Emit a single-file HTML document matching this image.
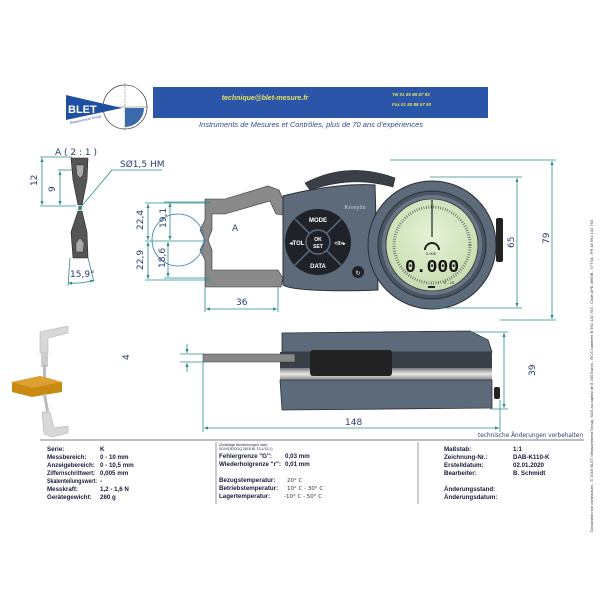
<!DOCTYPE html>
<html><head><meta charset="utf-8"><style>
html,body{margin:0;padding:0;background:#fff;}
svg{display:block;font-family:"Liberation Sans",sans-serif;}
.d{font-family:"DejaVu Sans","Liberation Sans",sans-serif;fill:#2a3b6e;font-size:9px;}
.t{font-size:6.2px;font-weight:bold;fill:#1a1a3a;}
.dl{stroke:#2a8c8c;stroke-width:0.8;fill:none;}
</style></head><body>
<svg width="600" height="600" viewBox="0 0 600 600" xmlns="http://www.w3.org/2000/svg">
<defs>
<marker id="a" markerWidth="6" markerHeight="6" refX="5" refY="3" orient="auto-start-reverse"><path d="M0,1 L5,3 L0,5z" fill="#2a8c8c"/></marker>
<linearGradient id="sil" x1="0" y1="0" x2="0" y2="1"><stop offset="0" stop-color="#777"/><stop offset="0.5" stop-color="#e8e8e8"/><stop offset="1" stop-color="#888"/></linearGradient>
<radialGradient id="lcd" cx="0.5" cy="0.4" r="0.6"><stop offset="0" stop-color="#e6f2d6"/><stop offset="1" stop-color="#c6dcb0"/></radialGradient>
</defs>
<!-- header -->
<rect x="153" y="87" width="335" height="31" fill="#2a55a8"/>
<text x="265" y="100" font-size="7" font-style="italic" font-weight="bold" fill="#e8e060" text-anchor="middle">technique@blet-mesure.fr</text>
<text x="392" y="96" font-size="4.5" font-style="italic" font-weight="bold" fill="#e8e060">Tel 01 80 88 57 93</text>
<text x="392" y="106" font-size="4.5" font-style="italic" font-weight="bold" fill="#e8e060">Fax 01 80 88 57 93</text>
<text x="311" y="127" font-size="7.5" font-style="italic" fill="#2a4a9a" text-anchor="middle">Instruments de Mesures et Contrôles, plus de 70 ans d'expériences</text>
<!-- logo -->
<circle cx="125" cy="107" r="22" fill="none" stroke="#444" stroke-width="0.7"/>
<line x1="125" y1="83" x2="125" y2="130" stroke="#666" stroke-width="0.5" stroke-dasharray="2,1"/>
<line x1="100" y1="107" x2="148" y2="107" stroke="#666" stroke-width="0.5"/>
<path d="M125,108 L144,108 A19,19 0 0 1 125,127z" fill="#3a6aaa"/>
<path d="M66,95 L122,108 L66,120z" fill="#1f4fa0"/>
<text x="68" y="113" font-size="11" font-weight="bold" fill="#fff">BLET</text>
<text x="70" y="124" font-size="3.5" fill="#2a4a9a" transform="rotate(-12 70 124)">Measurement Group</text>
<!-- detail A -->
<text x="55" y="155" class="d">A ( 2 : 1 )</text>
<path d="M71,158 L88,158 L87,180 L82,205 L78,205 L73,180z" fill="#555" stroke="#222" stroke-width="0.6"/>
<path d="M76,165 L84,165 L83,175 L80,178 L77,175z" fill="#aaa" stroke="#222" stroke-width="0.4"/>
<path d="M78,211 L82,211 L87,232 L88,258 L73,258 L71,232z" fill="#555" stroke="#222" stroke-width="0.6"/>
<path d="M80,238 L84,243 L83,252 L76,252 L76,243z" fill="#aaa" stroke="#222" stroke-width="0.4"/>
<circle cx="80" cy="208" r="2" fill="#2a8c8c"/>
<path class="dl" d="M80,208 L112,170 L162,170"/>
<text x="120" y="167" class="d">SØ1,5 HM</text>
<line class="dl" x1="40" y1="157" x2="72" y2="157"/><line class="dl" x1="40" y1="206" x2="76" y2="206"/>
<line class="dl" x1="42" y1="158" x2="42" y2="205" marker-start="url(#a)" marker-end="url(#a)"/>
<text class="d" transform="translate(37,186) rotate(-90)">12</text>
<line class="dl" x1="58" y1="170" x2="72" y2="170"/>
<line class="dl" x1="60" y1="171" x2="60" y2="205" marker-start="url(#a)" marker-end="url(#a)"/>
<text class="d" transform="translate(55,192) rotate(-90)">9</text>
<line class="dl" x1="70" y1="258" x2="68" y2="286"/><line class="dl" x1="88" y1="258" x2="94" y2="282"/>
<path class="dl" d="M68,283 Q82,284 94,280" marker-start="url(#a)" marker-end="url(#a)"/>
<text x="70" y="277" class="d">15,9°</text>
<!-- iso picture -->
<path d="M40,332 L68,326 L68,333 L48,338 L48,353 L40,353z" fill="#d8d8d8" stroke="#aaa" stroke-width="0.5"/>
<rect x="41" y="353" width="7" height="14" fill="#ccc"/>
<rect x="43" y="365" width="3" height="15" fill="#bbb"/>
<path d="M12,382 L40,376 L62,382 L62,392 L32,397 L12,392z" fill="#c88a10"/>
<path d="M12,382 L40,376 L62,382 L32,388z" fill="#dba030"/>
<rect x="44" y="394" width="3" height="18" fill="#bbb" transform="rotate(-10 45 400)"/>
<path d="M42,412 L50,412 L54,428 L68,426 L68,433 L52,437 L44,434z" fill="#d8d8d8" stroke="#aaa" stroke-width="0.5"/>
<!-- front view jaws -->
<path d="M205,199 L225,199 L268,186 L279,190 L285,204 L283,215 L276,214 L270,201 L225,214 L212,214 L212,230 L208,240 L212,250 L212,270 L278,270 L283,278 L281,287 L205,287 L205,260 L200,250 L205,240 L200,230 L205,220z" fill="#8a8a8a" stroke="#333" stroke-width="0.6"/>
<path d="M283,196 C283,196 335,182 375,185 L378,290 C330,292 290,290 283,285z" fill="#5d6a7a" stroke="#2a2f38" stroke-width="1"/>
<path d="M305,183 C330,170 360,165 395,178 L393,187 C360,178 335,182 310,190z" fill="#3a3f48" stroke="#222" stroke-width="0.6"/>
<circle cx="432" cy="245" r="64" fill="#5d6a7a" stroke="#2a2f38" stroke-width="1"/>
<circle cx="432" cy="245" r="54" fill="#4a5563" stroke="#2a2f38" stroke-width="1"/>
<circle cx="432" cy="245" r="50" fill="#6a7686"/>
<circle cx="432" cy="245" r="46" fill="url(#lcd)" stroke="#333" stroke-width="0.8"/>
<circle cx="432" cy="245" r="38" fill="none" stroke="#444" stroke-width="3" stroke-dasharray="0.6,1.8"/>
<line x1="432" y1="200" x2="432" y2="237" stroke="#222" stroke-width="1.2"/>
<path d="M425,250 A7,7 0 0 1 439,250" fill="none" stroke="#222" stroke-width="2"/>
<text x="432" y="272" font-size="18" font-family="Liberation Mono,monospace" fill="#111" text-anchor="middle" font-weight="bold">0.000</text>
<text x="426" y="255" font-size="4" fill="#222">0.005</text>
<text x="444" y="284" font-size="4" fill="#222">0 - 10</text>
<rect x="428" y="286" width="7" height="2" fill="#222"/>
<rect x="496" y="218" width="7" height="44" rx="2" fill="#222"/>
<circle cx="318" cy="242" r="33" fill="#1f2329"/>
<line x1="295" y1="219" x2="341" y2="265" stroke="#5d6a7a" stroke-width="1.5"/>
<line x1="341" y1="219" x2="295" y2="265" stroke="#5d6a7a" stroke-width="1.5"/>
<circle cx="318" cy="242" r="12" fill="#1f2329" stroke="#5d6a7a" stroke-width="1.5"/>
<text x="318" y="241" font-size="5" fill="#fff" text-anchor="middle" font-weight="bold">OK</text>
<text x="318" y="248" font-size="5" fill="#fff" text-anchor="middle" font-weight="bold">SET</text>
<text x="318" y="222" font-size="6" fill="#fff" text-anchor="middle" font-weight="bold">MODE</text>
<text x="318" y="268" font-size="6" fill="#fff" text-anchor="middle" font-weight="bold">DATA</text>
<text x="297" y="245" font-size="6" fill="#fff" text-anchor="middle" font-weight="bold">◂TOL</text>
<text x="340" y="245" font-size="5" fill="#fff" text-anchor="middle" font-weight="bold">&lt;0&gt;▸</text>
<circle cx="358" cy="272" r="6" fill="#1f2329"/>
<text x="358" y="275" font-size="6" fill="#fff" text-anchor="middle">↻</text>
<text x="355" y="209" font-size="6" font-family="Liberation Serif,serif" fill="#ccc" text-anchor="middle">Kroeplin</text>
<!-- dims front -->
<circle cx="178" cy="240" r="26" fill="none" stroke="#2a7ab0" stroke-width="0.8"/>
<text x="232" y="231" class="d">A</text>
<line class="dl" x1="145" y1="203" x2="210" y2="203"/><line class="dl" x1="145" y1="241" x2="205" y2="241"/><line class="dl" x1="145" y1="280" x2="210" y2="280"/>
<line class="dl" x1="148" y1="204" x2="148" y2="240" marker-start="url(#a)" marker-end="url(#a)"/>
<line class="dl" x1="148" y1="242" x2="148" y2="279" marker-start="url(#a)" marker-end="url(#a)"/>
<line class="dl" x1="164" y1="202" x2="210" y2="202"/><line class="dl" x1="164" y1="278" x2="210" y2="278"/>
<line class="dl" x1="170" y1="203" x2="170" y2="240" marker-start="url(#a)" marker-end="url(#a)"/>
<line class="dl" x1="168" y1="242" x2="168" y2="277" marker-start="url(#a)" marker-end="url(#a)"/>
<text class="d" transform="translate(143,230) rotate(-90)">22,4</text>
<text class="d" transform="translate(166,228) rotate(-90)">19,1</text>
<text class="d" transform="translate(143,270) rotate(-90)">22,9</text>
<text class="d" transform="translate(165,268) rotate(-90)">18,6</text>
<line class="dl" x1="205" y1="287" x2="205" y2="312"/><line class="dl" x1="278" y1="287" x2="278" y2="312"/>
<line class="dl" x1="206" y1="309" x2="277" y2="309" marker-start="url(#a)" marker-end="url(#a)"/>
<text x="236" y="305" class="d">36</text>
<line class="dl" x1="430" y1="177" x2="522" y2="177"/><line class="dl" x1="430" y1="308" x2="522" y2="308"/>
<line class="dl" x1="517" y1="178" x2="517" y2="307" marker-start="url(#a)" marker-end="url(#a)"/>
<text class="d" transform="translate(514,248) rotate(-90)">65</text>
<line class="dl" x1="390" y1="160" x2="556" y2="160"/><line class="dl" x1="500" y1="320" x2="556" y2="320"/>
<line class="dl" x1="552" y1="161" x2="552" y2="319" marker-start="url(#a)" marker-end="url(#a)"/>
<text class="d" transform="translate(549,244) rotate(-90)">79</text>
<!-- side view -->
<path d="M282,333 L470,331 L488,340 L492,352 L282,352z" fill="#5d6a7a" stroke="#2a2f38" stroke-width="0.8"/>
<rect x="280" y="352" width="212" height="16" fill="#3a4048"/>
<rect x="280" y="368" width="212" height="12" fill="url(#sil)"/>
<path d="M280,380 L492,380 L492,408 L282,410z" fill="#5d6a7a" stroke="#2a2f38" stroke-width="0.8"/>
<rect x="310" y="350" width="82" height="26" rx="3" fill="#222"/>
<rect x="203" y="354" width="92" height="8" fill="#888" stroke="#333" stroke-width="0.5"/>
<rect x="494" y="387" width="6" height="12" rx="2" fill="#222"/>
<line class="dl" x1="180" y1="354" x2="203" y2="354"/><line class="dl" x1="180" y1="362" x2="203" y2="362"/>
<line class="dl" x1="187" y1="344" x2="187" y2="353" marker-end="url(#a)"/><line class="dl" x1="187" y1="372" x2="187" y2="363" marker-end="url(#a)"/>
<text class="d" transform="translate(129,360) rotate(-90)">4</text>
<line class="dl" x1="470" y1="332" x2="508" y2="332"/><line class="dl" x1="490" y1="409" x2="508" y2="409"/>
<line class="dl" x1="504" y1="333" x2="504" y2="408" marker-start="url(#a)" marker-end="url(#a)"/>
<text class="d" transform="translate(535,376) rotate(-90)">39</text>
<line class="dl" x1="203" y1="362" x2="203" y2="432"/><line class="dl" x1="500" y1="400" x2="500" y2="432"/>
<line class="dl" x1="204" y1="428" x2="499" y2="428" marker-start="url(#a)" marker-end="url(#a)"/>
<text x="345" y="425" class="d">148</text>
<text x="478" y="437" font-size="6" font-family="DejaVu Sans,sans-serif" fill="#2a3b6e" textLength="105" lengthAdjust="spacingAndGlyphs">technische Änderungen vorbehalten</text>
<line x1="40" y1="440" x2="584" y2="440" stroke="#555" stroke-width="0.7"/>
<line x1="216" y1="442" x2="216" y2="504" stroke="#555" stroke-width="0.6"/>
<line x1="418" y1="442" x2="418" y2="504" stroke="#555" stroke-width="0.6"/>
<!-- table -->
<g class="t">
<text x="47" y="451">Serie:</text><text x="100" y="451">K</text>
<text x="47" y="459">Messbereich:</text><text x="100" y="459">0 - 10 mm</text>
<text x="47" y="467">Anzeigebereich:</text><text x="100" y="467">0 - 10,5 mm</text>
<text x="47" y="475" textLength="48" lengthAdjust="spacingAndGlyphs">Ziffernschrittwert:</text><text x="100" y="475">0,005 mm</text>
<text x="47" y="483" textLength="50" lengthAdjust="spacingAndGlyphs">Skalenteilungswert:</text><text x="100" y="483">-</text>
<text x="47" y="491">Messkraft:</text><text x="100" y="491">1,2 - 1,6 N</text>
<text x="47" y="499">Gerätegewicht:</text><text x="100" y="499">260 g</text>
<text x="219" y="446" font-size="3.5" font-weight="normal">(Zulässige Abweichungen nach</text>
<text x="219" y="450" font-size="3.5" font-weight="normal">VDI/VDE/DGQ 2618 Bl. 13.1/13.1)</text>
<text x="219" y="458">Fehlergrenze "G":</text><text x="285" y="458">0,03 mm</text>
<text x="219" y="466" textLength="62" lengthAdjust="spacingAndGlyphs">Wiederholgrenze "r":</text><text x="285" y="466">0,01 mm</text>
<text x="219" y="482">Bezugstemperatur:</text>
<text x="219" y="490">Betriebstemperatur:</text>
<text x="219" y="498">Lagertemperatur:</text>
<text x="444" y="451">Maßstab:</text><text x="513" y="451">1:1</text>
<text x="444" y="459">Zeichnung-Nr.:</text><text x="513" y="459">DAB-K110-K</text>
<text x="444" y="467">Erstelldatum:</text><text x="513" y="467">02.01.2020</text>
<text x="444" y="475">Bearbeiter:</text><text x="513" y="475">B. Schmidt</text>
<text x="444" y="491">Änderungsstand:</text>
<text x="444" y="499">Änderungsdatum:</text>
</g>
<g font-family="DejaVu Sans,sans-serif" font-size="5.5" fill="#333">
<text x="287" y="482">20° C</text><text x="287" y="490">10° C - 30° C</text><text x="284" y="498">-10° C - 50° C</text>
</g>
<text transform="translate(593,532) rotate(-90)" font-size="4" fill="#333">Document non contractuel - © 2016 BLET Measurement Group, SAS au capital de 8 200 Euros - RCS Nanterre B 562 132 753 - Code APE 4669B - N°TVA : FR 18 562 132 753</text>
</svg>
</body></html>
